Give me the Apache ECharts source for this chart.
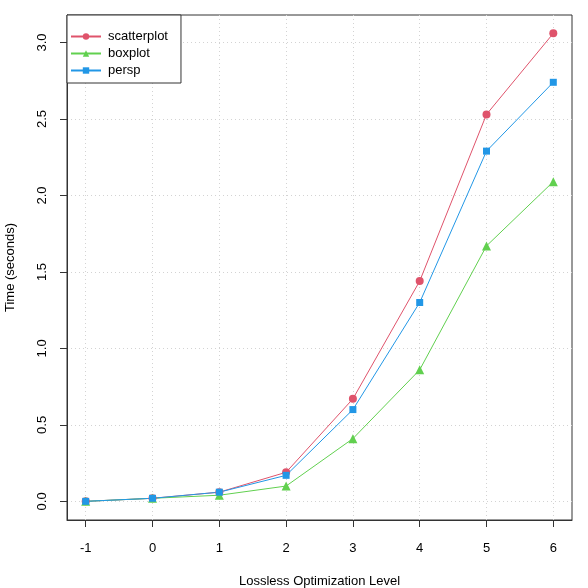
<!DOCTYPE html>
<html>
<head>
<meta charset="utf-8">
<script src="https://cdn.jsdelivr.net/npm/echarts@6/dist/echarts.min.js"></script>
<style>
html,body{margin:0;padding:0;background:#fff;}
#main{width:588px;height:588px;}
</style>
</head>
<body>
<div id="main"></div>
<script>
//数据
var levels = [-1, 0, 1, 2, 3, 4, 5, 6];
var scatterplot = [0.00, 0.02, 0.06, 0.19, 0.67, 1.44, 2.53, 3.06];
var boxplot = [0.00, 0.02, 0.04, 0.10, 0.41, 0.86, 1.67, 2.09];
var persp = [0.00, 0.02, 0.06, 0.17, 0.60, 1.30, 2.29, 2.74];
var yTicks = [0, 0.5, 1, 1.5, 2, 2.5, 3];

var font = 'Liberation Sans, Arial, sans-serif';

function pairs(arr) {
    var out = [];
    for (var i = 0; i < levels.length; i++) {
        out.push([levels[i], arr[i]]);
    }
    return out;
}

function lineSeries(name, arr, color, symbol, size) {
    return {
        name: name,
        type: 'line',
        data: pairs(arr),
        symbol: symbol,
        symbolSize: size,
        lineStyle: {color: color, width: 1},
        itemStyle: {color: color},
        emphasis: {disabled: true},
        z: 3
    };
}

var option = {
    animation: false,
    textStyle: {fontFamily: font},
    grid: {
        left: 67, right: 16, top: 15, bottom: 68,
        outerBoundsMode: 'none',
        containLabel: false,
        show: true, borderColor: '#333', borderWidth: 1, backgroundColor: 'transparent'
    },
    legend: {
        orient: 'vertical',
        left: 67, top: 15,
        backgroundColor: '#fff',
        borderColor: '#333', borderWidth: 1, borderRadius: 0,
        padding: [15, 13, 6, 3],
        itemWidth: 30, itemHeight: 8, itemGap: 4,
        textStyle: {fontSize: 13, color: '#000', fontFamily: font, padding: [0, 0, 0, 2]},
        data: ['scatterplot', 'boxplot', 'persp']
    },
    xAxis: {
        type: 'value',
        min: -1.28, max: 6.28,
        name: 'Lossless Optimization Level',
        nameLocation: 'middle',
        nameGap: 55,
        nameTextStyle: {fontSize: 13, color: '#000'},
        axisLine: {show: true, onZero: false, lineStyle: {color: '#333', width: 1}},
        axisTick: {show: true, length: 7, lineStyle: {color: '#333', width: 1}, customValues: levels},
        axisLabel: {fontSize: 13, color: '#000', margin: 22, customValues: levels},
        splitLine: {show: true, lineStyle: {color: '#d3d3d3', type: [1, 3], width: 1}}
    },
    yAxis: [{
        type: 'value',
        min: -0.122, max: 3.18,
        name: 'Time (seconds)',
        nameLocation: 'middle',
        nameGap: 50,
        nameTextStyle: {fontSize: 13, color: '#000'},
        axisLine: {show: true, onZero: false, lineStyle: {color: '#333', width: 1}},
        axisTick: {show: true, length: 7, lineStyle: {color: '#333', width: 1}, customValues: yTicks},
        axisLabel: {
            fontSize: 13, color: '#000', margin: 18, rotate: 90,
            customValues: yTicks,
            formatter: function (v) { return v.toFixed(1); }
        },
        splitLine: {show: true, lineStyle: {color: '#d3d3d3', type: [1, 3], width: 1}}
    }, {
        // 只画左侧刻度线
        type: 'value',
        position: 'left',
        offset: 0,
        min: -0.122, max: 3.18,
        axisLine: {show: false, onZero: false},
        axisTick: {show: true, inside: true, length: -7, lineStyle: {color: '#333', width: 1}, customValues: yTicks},
        axisLabel: {show: false},
        splitLine: {show: false}
    }],
    series: [
        lineSeries('scatterplot', scatterplot, '#DF536B', 'circle', 8),
        lineSeries('boxplot', boxplot, '#61D04F', 'triangle', 9),
        lineSeries('persp', persp, '#2297E6', 'rect', 7)
    ]
};

var myChart = echarts.init(document.getElementById('main'));
myChart.setOption(option);
</script>
</body>
</html>
